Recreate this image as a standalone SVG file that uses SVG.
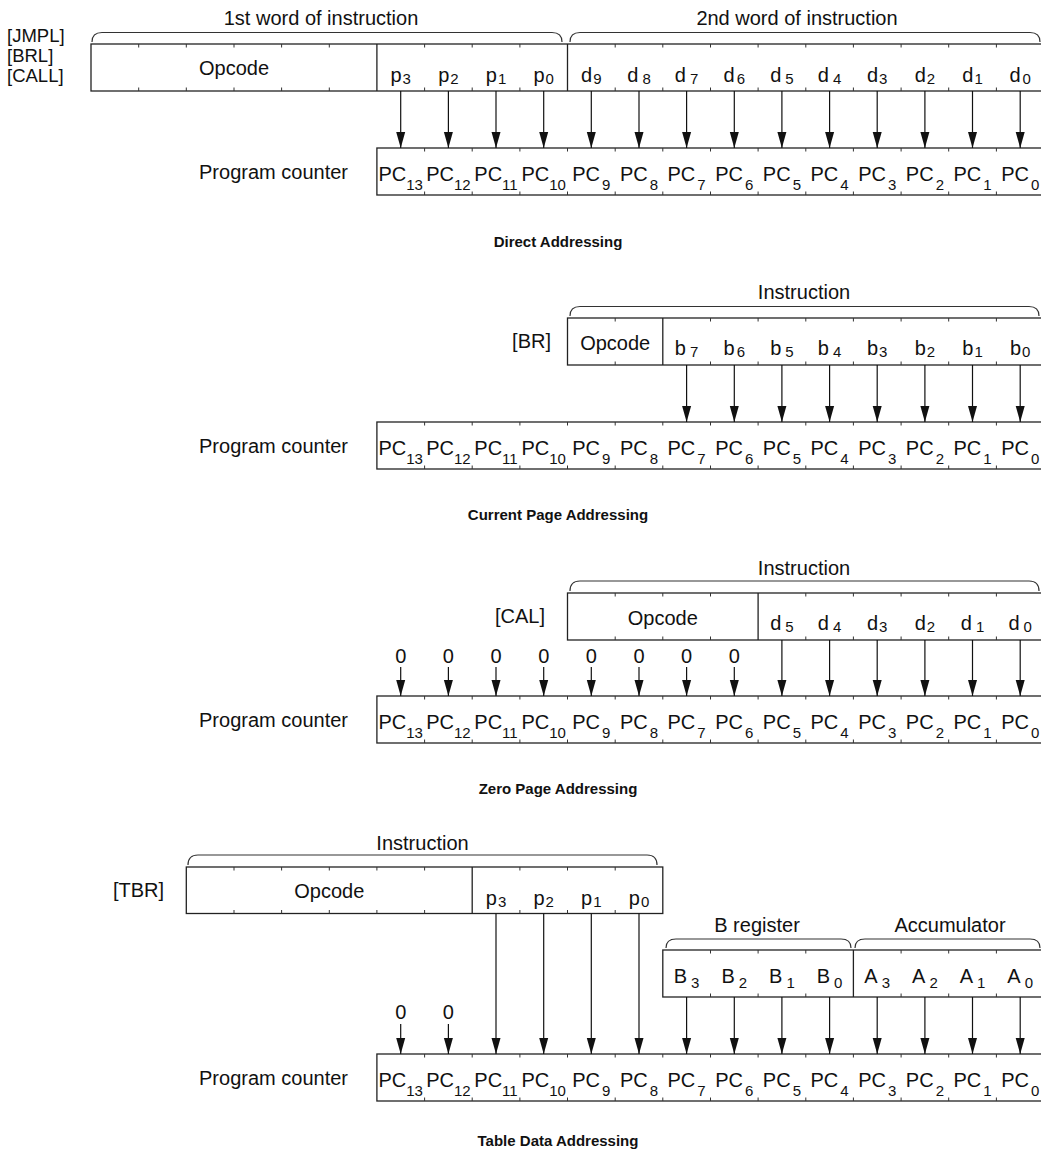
<svg xmlns="http://www.w3.org/2000/svg" width="1041" height="1155" viewBox="0 0 1041 1155">
<style>
text{font-family:"Liberation Sans",Arial,Helvetica,sans-serif;font-size:20px;fill:#111}
.c{text-anchor:middle}
.e{text-anchor:end}
.s{font-size:15px}
.m{font-size:18.5px}
.ttl{font-weight:bold;font-size:15px;text-anchor:middle}
.box{fill:none;stroke:#222;stroke-width:1.3}
.tk{fill:none;stroke:#333;stroke-width:1}
.br{fill:none;stroke:#333;stroke-width:1.2}
.ar{stroke:#111;stroke-width:1.2;fill:none;marker-end:url(#ah)}
</style>
<defs>
<marker id="ah" viewBox="0 0 16 10" refX="16" refY="5" markerWidth="16" markerHeight="10" markerUnits="userSpaceOnUse" orient="auto"><path d="M0,0.5L16,5L0,9.5Z" fill="#111"/></marker>
</defs>
<rect width="1041" height="1155" fill="#fff"/>

<!-- ===== Section 1: Direct Addressing ===== -->
<g id="s1-mnemonics">
<text class="m" x="7" y="42">[JMPL]</text>
<text class="m" x="7" y="62">[BRL]</text>
<text class="m" x="7" y="82">[CALL]</text>
</g>
<g id="s1-brace1">
<path class="br" d="M92,42Q92,32.5 102,32.5L552,32.5Q562,32.5 562,42"/>
<text class="c" x="321" y="25">1st word of instruction</text>
</g>
<g id="s1-brace2">
<path class="br" d="M570,42Q570,32.5 580,32.5L1030,32.5Q1040,32.5 1040,42"/>
<text class="c" x="797" y="25">2nd word of instruction</text>
</g>
<g id="s1-instr">
<rect class="box" x="91" y="44" width="953" height="47"/>
<path class="box" d="M376.9,44V91M567.5,44V91"/>
<path class="tk" d="M138.7,44v3.5M138.7,91v-3.5M186.3,44v3.5M186.3,91v-3.5M234,44v3.5M234,91v-3.5M281.6,44v3.5M281.6,91v-3.5M329.3,44v3.5M329.3,91v-3.5M424.6,44v3.5M424.6,91v-3.5M472.2,44v3.5M472.2,91v-3.5M519.9,44v3.5M519.9,91v-3.5M615.2,44v3.5M615.2,91v-3.5M662.8,44v3.5M662.8,91v-3.5M710.5,44v3.5M710.5,91v-3.5M758.1,44v3.5M758.1,91v-3.5M805.8,44v3.5M805.8,91v-3.5M853.4,44v3.5M853.4,91v-3.5M901.1,44v3.5M901.1,91v-3.5M948.7,44v3.5M948.7,91v-3.5M996.4,44v3.5M996.4,91v-3.5"/>
<text class="c" x="234" y="75">Opcode</text>
<text class="c" x="400.7" y="82">p<tspan class="s" dx="1" dy="2">3</tspan></text>
<text class="c" x="448.4" y="82">p<tspan class="s" dx="1" dy="2">2</tspan></text>
<text class="c" x="496" y="82">p<tspan class="s" dx="1" dy="2">1</tspan></text>
<text class="c" x="543.7" y="82">p<tspan class="s" dx="1" dy="2">0</tspan></text>
<text class="c" x="591.3" y="82">d<tspan class="s" dx="1" dy="2">9</tspan></text>
<text class="c" x="639" y="82">d<tspan class="s" dx="4" dy="2">8</tspan></text>
<text class="c" x="686.6" y="82">d<tspan class="s" dx="4" dy="2">7</tspan></text>
<text class="c" x="734.3" y="82">d<tspan class="s" dx="2" dy="2">6</tspan></text>
<text class="c" x="781.9" y="82">d<tspan class="s" dx="4" dy="2">5</tspan></text>
<text class="c" x="829.6" y="82">d<tspan class="s" dx="4" dy="2">4</tspan></text>
<text class="c" x="877.2" y="82">d<tspan class="s" dx="1" dy="2">3</tspan></text>
<text class="c" x="924.9" y="82">d<tspan class="s" dx="1" dy="2">2</tspan></text>
<text class="c" x="972.5" y="82">d<tspan class="s" dx="1" dy="2">1</tspan></text>
<text class="c" x="1020.2" y="82">d<tspan class="s" dx="2" dy="2">0</tspan></text>
</g>
<g id="s1-pc">
<text class="e" x="348" y="179">Program counter</text>
<rect class="box" x="376.9" y="148" width="667.1" height="47"/>
<path class="tk" d="M424.6,148v3.5M424.6,195v-3.5M472.2,148v3.5M472.2,195v-3.5M519.9,148v3.5M519.9,195v-3.5M567.5,148v3.5M567.5,195v-3.5M615.2,148v3.5M615.2,195v-3.5M662.8,148v3.5M662.8,195v-3.5M710.5,148v3.5M710.5,195v-3.5M758.1,148v3.5M758.1,195v-3.5M805.8,148v3.5M805.8,195v-3.5M853.4,148v3.5M853.4,195v-3.5M901.1,148v3.5M901.1,195v-3.5M948.7,148v3.5M948.7,195v-3.5M996.4,148v3.5M996.4,195v-3.5"/>
<text class="c" x="400.7" y="181">PC<tspan class="s" dy="9">13</tspan></text>
<text class="c" x="448.4" y="181">PC<tspan class="s" dy="9">12</tspan></text>
<text class="c" x="496" y="181">PC<tspan class="s" dy="9">11</tspan></text>
<text class="c" x="543.7" y="181">PC<tspan class="s" dy="9">10</tspan></text>
<text class="c" x="591.3" y="181">PC<tspan class="s" dx="2" dy="9">9</tspan></text>
<text class="c" x="639" y="181">PC<tspan class="s" dx="2" dy="9">8</tspan></text>
<text class="c" x="686.6" y="181">PC<tspan class="s" dx="2" dy="9">7</tspan></text>
<text class="c" x="734.3" y="181">PC<tspan class="s" dx="2" dy="9">6</tspan></text>
<text class="c" x="781.9" y="181">PC<tspan class="s" dx="2" dy="9">5</tspan></text>
<text class="c" x="829.6" y="181">PC<tspan class="s" dx="2" dy="9">4</tspan></text>
<text class="c" x="877.2" y="181">PC<tspan class="s" dx="2" dy="9">3</tspan></text>
<text class="c" x="924.9" y="181">PC<tspan class="s" dx="2" dy="9">2</tspan></text>
<text class="c" x="972.5" y="181">PC<tspan class="s" dx="2" dy="9">1</tspan></text>
<text class="c" x="1020.2" y="181">PC<tspan class="s" dx="2" dy="9">0</tspan></text>
</g>
<g id="s1-title"><text class="ttl" x="558" y="247">Direct Addressing</text></g>

<!-- ===== Section 2: Current Page Addressing ===== -->
<g id="s2-brace">
<path class="br" d="M570,316Q570,306.5 580,306.5L1029,306.5Q1039,306.5 1039,316"/>
<text class="c" x="804" y="299">Instruction</text>
</g>
<g id="s2-instr">
<text class="e" x="551" y="348">[BR]</text>
<rect class="box" x="567.5" y="318" width="476.5" height="47"/>
<path class="box" d="M662.8,318V365"/>
<path class="tk" d="M615.2,318v3.5M615.2,365v-3.5M710.5,318v3.5M710.5,365v-3.5M758.1,318v3.5M758.1,365v-3.5M805.8,318v3.5M805.8,365v-3.5M853.4,318v3.5M853.4,365v-3.5M901.1,318v3.5M901.1,365v-3.5M948.7,318v3.5M948.7,365v-3.5M996.4,318v3.5M996.4,365v-3.5"/>
<text class="c" x="615.2" y="350">Opcode</text>
<text class="c" x="686.6" y="355">b<tspan class="s" dx="4" dy="2">7</tspan></text>
<text class="c" x="734.3" y="355">b<tspan class="s" dx="2" dy="2">6</tspan></text>
<text class="c" x="781.9" y="355">b<tspan class="s" dx="4" dy="2">5</tspan></text>
<text class="c" x="829.6" y="355">b<tspan class="s" dx="4" dy="2">4</tspan></text>
<text class="c" x="877.2" y="355">b<tspan class="s" dx="1" dy="2">3</tspan></text>
<text class="c" x="924.9" y="355">b<tspan class="s" dx="1" dy="2">2</tspan></text>
<text class="c" x="972.5" y="355">b<tspan class="s" dx="1" dy="2">1</tspan></text>
<text class="c" x="1020.2" y="355">b<tspan class="s" dx="1" dy="2">0</tspan></text>
</g>
<g id="s2-pc">
<text class="e" x="348" y="453">Program counter</text>
<rect class="box" x="376.9" y="422" width="667.1" height="47"/>
<path class="tk" d="M424.6,422v3.5M424.6,469v-3.5M472.2,422v3.5M472.2,469v-3.5M519.9,422v3.5M519.9,469v-3.5M567.5,422v3.5M567.5,469v-3.5M615.2,422v3.5M615.2,469v-3.5M662.8,422v3.5M662.8,469v-3.5M710.5,422v3.5M710.5,469v-3.5M758.1,422v3.5M758.1,469v-3.5M805.8,422v3.5M805.8,469v-3.5M853.4,422v3.5M853.4,469v-3.5M901.1,422v3.5M901.1,469v-3.5M948.7,422v3.5M948.7,469v-3.5M996.4,422v3.5M996.4,469v-3.5"/>
<text class="c" x="400.7" y="455">PC<tspan class="s" dy="9">13</tspan></text>
<text class="c" x="448.4" y="455">PC<tspan class="s" dy="9">12</tspan></text>
<text class="c" x="496" y="455">PC<tspan class="s" dy="9">11</tspan></text>
<text class="c" x="543.7" y="455">PC<tspan class="s" dy="9">10</tspan></text>
<text class="c" x="591.3" y="455">PC<tspan class="s" dx="2" dy="9">9</tspan></text>
<text class="c" x="639" y="455">PC<tspan class="s" dx="2" dy="9">8</tspan></text>
<text class="c" x="686.6" y="455">PC<tspan class="s" dx="2" dy="9">7</tspan></text>
<text class="c" x="734.3" y="455">PC<tspan class="s" dx="2" dy="9">6</tspan></text>
<text class="c" x="781.9" y="455">PC<tspan class="s" dx="2" dy="9">5</tspan></text>
<text class="c" x="829.6" y="455">PC<tspan class="s" dx="2" dy="9">4</tspan></text>
<text class="c" x="877.2" y="455">PC<tspan class="s" dx="2" dy="9">3</tspan></text>
<text class="c" x="924.9" y="455">PC<tspan class="s" dx="2" dy="9">2</tspan></text>
<text class="c" x="972.5" y="455">PC<tspan class="s" dx="2" dy="9">1</tspan></text>
<text class="c" x="1020.2" y="455">PC<tspan class="s" dx="2" dy="9">0</tspan></text>
</g>
<g id="s2-title"><text class="ttl" x="558" y="520">Current Page Addressing</text></g>

<!-- ===== Section 3: Zero Page Addressing ===== -->
<g id="s3-brace">
<path class="br" d="M570,591Q570,581 580,581L1029,581Q1039,581 1039,591"/>
<text class="c" x="804" y="575">Instruction</text>
</g>
<g id="s3-instr">
<text class="e" x="545" y="623">[CAL]</text>
<rect class="box" x="567.5" y="593" width="476.5" height="47"/>
<path class="box" d="M758.1,593V640"/>
<path class="tk" d="M615.2,593v3.5M615.2,640v-3.5M662.8,593v3.5M662.8,640v-3.5M710.5,593v3.5M710.5,640v-3.5M805.8,593v3.5M805.8,640v-3.5M853.4,593v3.5M853.4,640v-3.5M901.1,593v3.5M901.1,640v-3.5M948.7,593v3.5M948.7,640v-3.5M996.4,593v3.5M996.4,640v-3.5"/>
<text class="c" x="662.8" y="625">Opcode</text>
<text class="c" x="781.9" y="630">d<tspan class="s" dx="4" dy="2">5</tspan></text>
<text class="c" x="829.6" y="630">d<tspan class="s" dx="4" dy="2">4</tspan></text>
<text class="c" x="877.2" y="630">d<tspan class="s" dx="1" dy="2">3</tspan></text>
<text class="c" x="924.9" y="630">d<tspan class="s" dx="1" dy="2">2</tspan></text>
<text class="c" x="972.5" y="630">d<tspan class="s" dx="4" dy="2">1</tspan></text>
<text class="c" x="1020.2" y="630">d<tspan class="s" dx="4" dy="2">0</tspan></text>
</g>
<g id="s3-zeros">
<text class="c" x="400.7" y="663">0</text>
<text class="c" x="448.4" y="663">0</text>
<text class="c" x="496" y="663">0</text>
<text class="c" x="543.7" y="663">0</text>
<text class="c" x="591.3" y="663">0</text>
<text class="c" x="639" y="663">0</text>
<text class="c" x="686.6" y="663">0</text>
<text class="c" x="734.3" y="663">0</text>
</g>
<g id="s3-pc">
<text class="e" x="348" y="727">Program counter</text>
<rect class="box" x="376.9" y="696" width="667.1" height="47"/>
<path class="tk" d="M424.6,696v3.5M424.6,743v-3.5M472.2,696v3.5M472.2,743v-3.5M519.9,696v3.5M519.9,743v-3.5M567.5,696v3.5M567.5,743v-3.5M615.2,696v3.5M615.2,743v-3.5M662.8,696v3.5M662.8,743v-3.5M710.5,696v3.5M710.5,743v-3.5M758.1,696v3.5M758.1,743v-3.5M805.8,696v3.5M805.8,743v-3.5M853.4,696v3.5M853.4,743v-3.5M901.1,696v3.5M901.1,743v-3.5M948.7,696v3.5M948.7,743v-3.5M996.4,696v3.5M996.4,743v-3.5"/>
<text class="c" x="400.7" y="729">PC<tspan class="s" dy="9">13</tspan></text>
<text class="c" x="448.4" y="729">PC<tspan class="s" dy="9">12</tspan></text>
<text class="c" x="496" y="729">PC<tspan class="s" dy="9">11</tspan></text>
<text class="c" x="543.7" y="729">PC<tspan class="s" dy="9">10</tspan></text>
<text class="c" x="591.3" y="729">PC<tspan class="s" dx="2" dy="9">9</tspan></text>
<text class="c" x="639" y="729">PC<tspan class="s" dx="2" dy="9">8</tspan></text>
<text class="c" x="686.6" y="729">PC<tspan class="s" dx="2" dy="9">7</tspan></text>
<text class="c" x="734.3" y="729">PC<tspan class="s" dx="2" dy="9">6</tspan></text>
<text class="c" x="781.9" y="729">PC<tspan class="s" dx="2" dy="9">5</tspan></text>
<text class="c" x="829.6" y="729">PC<tspan class="s" dx="2" dy="9">4</tspan></text>
<text class="c" x="877.2" y="729">PC<tspan class="s" dx="2" dy="9">3</tspan></text>
<text class="c" x="924.9" y="729">PC<tspan class="s" dx="2" dy="9">2</tspan></text>
<text class="c" x="972.5" y="729">PC<tspan class="s" dx="2" dy="9">1</tspan></text>
<text class="c" x="1020.2" y="729">PC<tspan class="s" dx="2" dy="9">0</tspan></text>
</g>
<g id="s3-title"><text class="ttl" x="558" y="794">Zero Page Addressing</text></g>

<!-- ===== Section 4: Table Data Addressing ===== -->
<g id="s4-brace">
<path class="br" d="M188,865Q188,855 198,855L647,855Q657,855 657,865"/>
<text class="c" x="422.5" y="850">Instruction</text>
</g>
<g id="s4-instr">
<text class="e" x="164" y="897">[TBR]</text>
<rect class="box" x="186.3" y="867" width="476.5" height="46.5"/>
<path class="box" d="M472.2,867V913.5"/>
<path class="tk" d="M234,867v3.5M234,913.5v-3.5M281.6,867v3.5M281.6,913.5v-3.5M329.3,867v3.5M329.3,913.5v-3.5M376.9,867v3.5M376.9,913.5v-3.5M424.6,867v3.5M424.6,913.5v-3.5M519.9,867v3.5M519.9,913.5v-3.5M567.5,867v3.5M567.5,913.5v-3.5M615.2,867v3.5M615.2,913.5v-3.5"/>
<text class="c" x="329.3" y="898">Opcode</text>
<text class="c" x="496" y="905">p<tspan class="s" dx="1" dy="2">3</tspan></text>
<text class="c" x="543.7" y="905">p<tspan class="s" dx="1" dy="2">2</tspan></text>
<text class="c" x="591.3" y="905">p<tspan class="s" dx="1" dy="2">1</tspan></text>
<text class="c" x="639" y="905">p<tspan class="s" dx="1" dy="2">0</tspan></text>
</g>
<g id="s4-breg-brace">
<path class="br" d="M666,948Q666,939 676,939L841,939Q851,939 851,948"/>
<text class="c" x="757" y="932">B register</text>
</g>
<g id="s4-acc-brace">
<path class="br" d="M855,948Q855,939 865,939L1030,939Q1040,939 1040,948"/>
<text class="c" x="950" y="932">Accumulator</text>
</g>
<g id="s4-regs">
<rect class="box" x="662.8" y="950" width="381.2" height="47"/>
<path class="box" d="M853.4,950V997"/>
<path class="tk" d="M710.5,950v3.5M710.5,997v-3.5M758.1,950v3.5M758.1,997v-3.5M805.8,950v3.5M805.8,997v-3.5M901.1,950v3.5M901.1,997v-3.5M948.7,950v3.5M948.7,997v-3.5M996.4,950v3.5M996.4,997v-3.5"/>
<text class="c" x="686.6" y="983">B<tspan class="s" dx="4" dy="5">3</tspan></text>
<text class="c" x="734.3" y="983">B<tspan class="s" dx="4" dy="5">2</tspan></text>
<text class="c" x="781.9" y="983">B<tspan class="s" dx="4" dy="5">1</tspan></text>
<text class="c" x="829.6" y="983">B<tspan class="s" dx="4" dy="5">0</tspan></text>
<text class="c" x="877.2" y="983">A<tspan class="s" dx="4" dy="5">3</tspan></text>
<text class="c" x="924.9" y="983">A<tspan class="s" dx="4" dy="5">2</tspan></text>
<text class="c" x="972.5" y="983">A<tspan class="s" dx="4" dy="5">1</tspan></text>
<text class="c" x="1020.2" y="983">A<tspan class="s" dx="4" dy="5">0</tspan></text>
</g>
<g id="s4-zeros">
<text class="c" x="400.7" y="1019">0</text>
<text class="c" x="448.4" y="1019">0</text>
</g>
<g id="s4-pc">
<text class="e" x="348" y="1085">Program counter</text>
<rect class="box" x="376.9" y="1054" width="667.1" height="47"/>
<path class="tk" d="M424.6,1054v3.5M424.6,1101v-3.5M472.2,1054v3.5M472.2,1101v-3.5M519.9,1054v3.5M519.9,1101v-3.5M567.5,1054v3.5M567.5,1101v-3.5M615.2,1054v3.5M615.2,1101v-3.5M662.8,1054v3.5M662.8,1101v-3.5M710.5,1054v3.5M710.5,1101v-3.5M758.1,1054v3.5M758.1,1101v-3.5M805.8,1054v3.5M805.8,1101v-3.5M853.4,1054v3.5M853.4,1101v-3.5M901.1,1054v3.5M901.1,1101v-3.5M948.7,1054v3.5M948.7,1101v-3.5M996.4,1054v3.5M996.4,1101v-3.5"/>
<text class="c" x="400.7" y="1087">PC<tspan class="s" dy="9">13</tspan></text>
<text class="c" x="448.4" y="1087">PC<tspan class="s" dy="9">12</tspan></text>
<text class="c" x="496" y="1087">PC<tspan class="s" dy="9">11</tspan></text>
<text class="c" x="543.7" y="1087">PC<tspan class="s" dy="9">10</tspan></text>
<text class="c" x="591.3" y="1087">PC<tspan class="s" dx="2" dy="9">9</tspan></text>
<text class="c" x="639" y="1087">PC<tspan class="s" dx="2" dy="9">8</tspan></text>
<text class="c" x="686.6" y="1087">PC<tspan class="s" dx="2" dy="9">7</tspan></text>
<text class="c" x="734.3" y="1087">PC<tspan class="s" dx="2" dy="9">6</tspan></text>
<text class="c" x="781.9" y="1087">PC<tspan class="s" dx="2" dy="9">5</tspan></text>
<text class="c" x="829.6" y="1087">PC<tspan class="s" dx="2" dy="9">4</tspan></text>
<text class="c" x="877.2" y="1087">PC<tspan class="s" dx="2" dy="9">3</tspan></text>
<text class="c" x="924.9" y="1087">PC<tspan class="s" dx="2" dy="9">2</tspan></text>
<text class="c" x="972.5" y="1087">PC<tspan class="s" dx="2" dy="9">1</tspan></text>
<text class="c" x="1020.2" y="1087">PC<tspan class="s" dx="2" dy="9">0</tspan></text>
</g>
<g id="s4-title"><text class="ttl" x="558" y="1146">Table Data Addressing</text></g>

<!-- ===== Connectors ===== -->
<g id="connectors">
<path class="ar" d="M400.7,91V148"/><path class="ar" d="M448.4,91V148"/><path class="ar" d="M496,91V148"/><path class="ar" d="M543.7,91V148"/>
<path class="ar" d="M591.3,91V148"/><path class="ar" d="M639,91V148"/><path class="ar" d="M686.6,91V148"/><path class="ar" d="M734.3,91V148"/>
<path class="ar" d="M781.9,91V148"/><path class="ar" d="M829.6,91V148"/><path class="ar" d="M877.2,91V148"/><path class="ar" d="M924.9,91V148"/>
<path class="ar" d="M972.5,91V148"/><path class="ar" d="M1020.2,91V148"/>

<path class="ar" d="M686.6,365V422"/><path class="ar" d="M734.3,365V422"/><path class="ar" d="M781.9,365V422"/><path class="ar" d="M829.6,365V422"/>
<path class="ar" d="M877.2,365V422"/><path class="ar" d="M924.9,365V422"/><path class="ar" d="M972.5,365V422"/><path class="ar" d="M1020.2,365V422"/>

<path class="ar" d="M400.7,667V696"/><path class="ar" d="M448.4,667V696"/><path class="ar" d="M496,667V696"/><path class="ar" d="M543.7,667V696"/>
<path class="ar" d="M591.3,667V696"/><path class="ar" d="M639,667V696"/><path class="ar" d="M686.6,667V696"/><path class="ar" d="M734.3,667V696"/>
<path class="ar" d="M781.9,640V696"/><path class="ar" d="M829.6,640V696"/><path class="ar" d="M877.2,640V696"/><path class="ar" d="M924.9,640V696"/>
<path class="ar" d="M972.5,640V696"/><path class="ar" d="M1020.2,640V696"/>

<path class="ar" d="M400.7,1024V1054"/><path class="ar" d="M448.4,1024V1054"/>
<path class="ar" d="M496,913.5V1054"/><path class="ar" d="M543.7,913.5V1054"/><path class="ar" d="M591.3,913.5V1054"/><path class="ar" d="M639,913.5V1054"/>
<path class="ar" d="M686.6,997V1054"/><path class="ar" d="M734.3,997V1054"/><path class="ar" d="M781.9,997V1054"/><path class="ar" d="M829.6,997V1054"/>
<path class="ar" d="M877.2,997V1054"/><path class="ar" d="M924.9,997V1054"/><path class="ar" d="M972.5,997V1054"/><path class="ar" d="M1020.2,997V1054"/>
</g>
</svg>
